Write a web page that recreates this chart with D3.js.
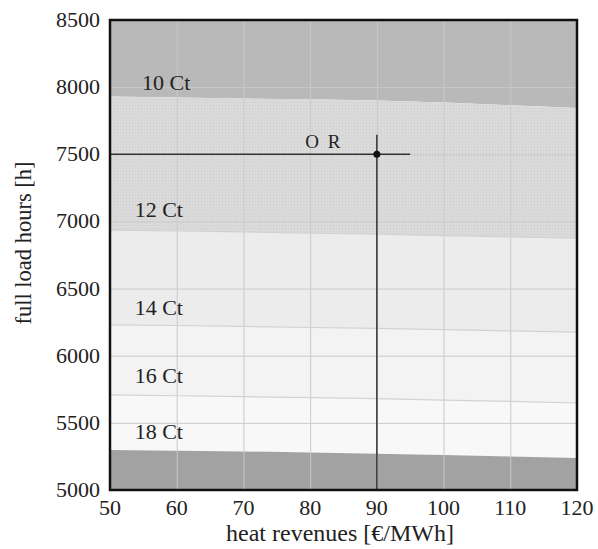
<!DOCTYPE html>
<html>
<head>
<meta charset="utf-8">
<script src="https://cdn.jsdelivr.net/npm/d3@7/dist/d3.min.js"></script>
<style>
  html, body { margin: 0; padding: 0; background: #fff; }
  svg { display: block; }
  text { font-family: "Liberation Serif", "DejaVu Serif", serif; fill: #222; }
</style>
</head>
<body>
<div id="chart"></div>
<script>
// heat revenue grid (x) and full load hours of each cost contour
const revenues = [50, 60, 70, 80, 90, 100, 110, 120];
const ct10 = [7930, 7922, 7915, 7910, 7900, 7885, 7865, 7845];
const ct12 = [6935, 6930, 6922, 6912, 6905, 6895, 6885, 6875];
const ct14 = [6230, 6225, 6218, 6210, 6203, 6195, 6185, 6175];
const ct16 = [5708, 5702, 5695, 5688, 5680, 5670, 5660, 5648];
const ct18 = [5298, 5293, 5287, 5280, 5270, 5260, 5250, 5238];

const contourLabels = ['10 Ct', '12 Ct', '14 Ct', '16 Ct', '18 Ct'];
const labelX = [54.8, 53.7, 53.7, 53.7, 53.7];
const labelY = [7979, 7033, 6303, 5797, 5380];

const xTicks = [50, 60, 70, 80, 90, 100, 110, 120];
const yTicks = [5000, 5500, 6000, 6500, 7000, 7500, 8000, 8500];

// operating point
const opRevenue = 90;
const opHours = 7500;
const opLineEnd = 95;     // end of horizontal marker line
const opLineTop = 7645;   // top of vertical marker line

const W = 598, H = 549;
const m = { left: 110, right: 21, top: 20, bottom: 59 };

const x = d3.scaleLinear().domain([50, 120]).range([m.left, W - m.right]);
const y = d3.scaleLinear().domain([5000, 8500]).range([H - m.bottom, m.top]);

const svg = d3.select('#chart').append('svg')
  .attr('width', W).attr('height', H);

const defs = svg.append('defs');
const pat = defs.append('pattern')
  .attr('id', 'stipple').attr('width', 3).attr('height', 3)
  .attr('patternUnits', 'userSpaceOnUse');
pat.append('rect').attr('width', 3).attr('height', 3).attr('fill', '#dadada');
pat.append('rect').attr('width', 1).attr('height', 1).attr('fill', '#cdcdcd');

const top8500 = revenues.map(() => 8500);
const bottom5000 = revenues.map(() => 5000);
const bands = [
  { hi: top8500, lo: ct10, fill: '#b9b9b9' },
  { hi: ct10, lo: ct12, fill: 'url(#stipple)' },
  { hi: ct12, lo: ct14, fill: '#ececec' },
  { hi: ct14, lo: ct16, fill: '#f3f3f3' },
  { hi: ct16, lo: ct18, fill: '#f8f8f8' },
  { hi: ct18, lo: bottom5000, fill: '#a2a2a2' }
];

const area = d3.area()
  .x(d => x(d.r))
  .y0(d => y(d.lo))
  .y1(d => y(d.hi));

svg.append('g').selectAll('path')
  .data(bands)
  .join('path')
  .attr('d', b => area(revenues.map((r, i) => ({ r, lo: b.lo[i], hi: b.hi[i] }))))
  .attr('fill', b => b.fill);

// grid
const grid = svg.append('g').attr('stroke', '#cacaca').attr('stroke-width', 1);
grid.selectAll('line.v')
  .data(xTicks.slice(1, -1))
  .join('line')
  .attr('x1', d => x(d) + 0.5).attr('x2', d => x(d) + 0.5)
  .attr('y1', y(8500)).attr('y2', y(5000));
grid.selectAll('line.h')
  .data(yTicks.slice(1, -1))
  .join('line')
  .attr('x1', x(50)).attr('x2', x(120))
  .attr('y1', d => y(d) + 0.5).attr('y2', d => y(d) + 0.5);

// contour lines
const line = d3.line().x(d => x(d[0])).y(d => y(d[1]));
svg.append('g').selectAll('path')
  .data([ct12, ct14, ct16])
  .join('path')
  .attr('d', c => line(revenues.map((r, i) => [r, c[i]])))
  .attr('fill', 'none')
  .attr('stroke', '#d2d2d2')
  .attr('stroke-width', 1.2);

// contour labels
svg.append('g').selectAll('text')
  .data(contourLabels)
  .join('text')
  .attr('x', (d, i) => x(labelX[i]))
  .attr('y', (d, i) => y(labelY[i]))
  .attr('font-size', 22)
  .text(d => d);

// operating point markers
svg.append('line')
  .attr('x1', x(50)).attr('x2', x(opLineEnd))
  .attr('y1', y(opHours)).attr('y2', y(opHours))
  .attr('stroke', '#333').attr('stroke-width', 1.5);
svg.append('line')
  .attr('x1', x(opRevenue)).attr('x2', x(opRevenue))
  .attr('y1', y(opLineTop)).attr('y2', y(5000))
  .attr('stroke', '#333').attr('stroke-width', 1.5);
svg.append('circle')
  .attr('cx', x(opRevenue)).attr('cy', y(opHours)).attr('r', 3.5)
  .attr('fill', '#111');
svg.append('text')
  .attr('x', x(opRevenue) - 53).attr('y', y(opHours) - 6)
  .attr('text-anchor', 'middle')
  .attr('font-size', 19)
  .attr('letter-spacing', 2)
  .text('O R');

// frame
svg.append('rect')
  .attr('x', x(50)).attr('y', y(8500))
  .attr('width', x(120) - x(50)).attr('height', y(5000) - y(8500))
  .attr('fill', 'none').attr('stroke', '#111').attr('stroke-width', 2.5);

// tick labels
svg.append('g').selectAll('text')
  .data(yTicks)
  .join('text')
  .attr('x', x(50) - 10)
  .attr('y', d => y(d) + 7)
  .attr('text-anchor', 'end')
  .attr('font-size', 22)
  .text(d => d);
svg.append('g').selectAll('text')
  .data(xTicks)
  .join('text')
  .attr('x', d => x(d))
  .attr('y', y(5000) + 25)
  .attr('text-anchor', 'middle')
  .attr('font-size', 22)
  .text(d => d);

// axis titles
svg.append('text')
  .attr('x', 340).attr('y', 541)
  .attr('text-anchor', 'middle')
  .attr('font-size', 24)
  .text('heat revenues [€/MWh]');
svg.append('text')
  .attr('transform', 'translate(31,243) rotate(-90)')
  .attr('text-anchor', 'middle')
  .attr('font-size', 22.5)
  .text('full load hours [h]');
</script>
</body>
</html>
